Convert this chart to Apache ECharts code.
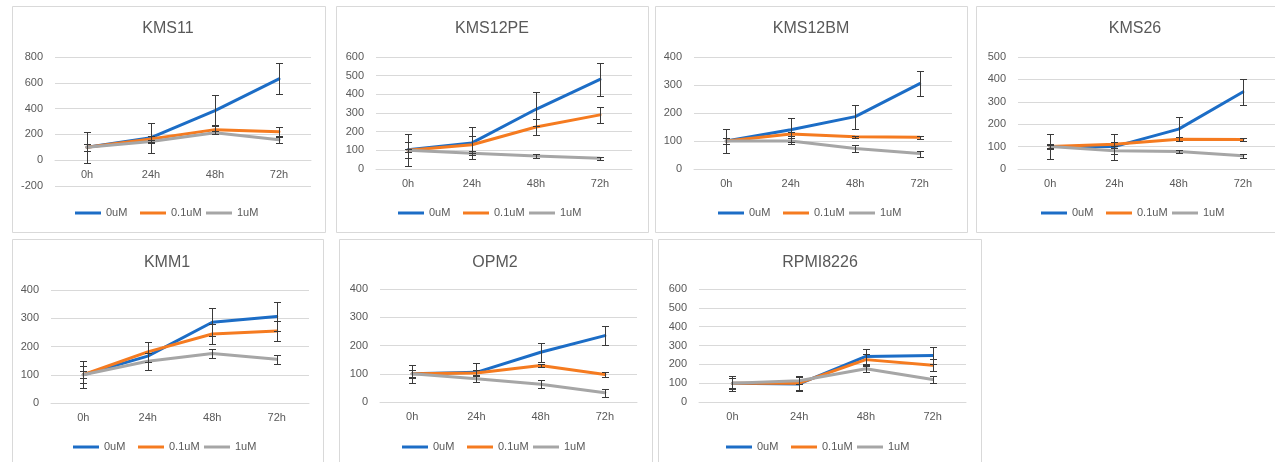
<!DOCTYPE html>
<html>
<head>
<meta charset="utf-8">
<title>Cell viability time course</title>
<script src="https://cdn.jsdelivr.net/npm/echarts@6/dist/echarts.min.js"></script>
<style>
  html, body { margin: 0; padding: 0; background: #ffffff; }
  #chart { width: 1275px; height: 462px; }
</style>
</head>
<body>
<div id="chart"></div>
<script>
// Time points and drug doses shared by every panel
const hours = ['0h', '24h', '48h', '72h'];
const doses = ['0uM', '0.1uM', '1uM'];
const cellLines = ['KMS11', 'KMS12PE', 'KMS12BM', 'KMS26', 'KMM1', 'OPM2', 'RPMI8226'];

// Mean relative growth (%) per dose, rows follow `doses`
const kms11Mean   = [[100, 175, 385, 630], [100, 165, 237, 220], [100, 145, 212, 158]];
const kms12peMean = [[103, 140, 320, 480], [100, 130, 225, 290], [100, 85, 70, 57]];
const kms12bmMean = [[100, 140, 187, 305], [100, 125, 115, 113], [100, 100, 73, 55]];
const kms26Mean   = [[100, 100, 178, 344], [100, 111, 133, 132], [100, 81, 78, 59]];
const kmm1Mean    = [[100, 166, 286, 306], [100, 181, 244, 255], [100, 148, 175, 155]];
const opm2Mean    = [[100, 105, 176, 235], [100, 103, 129, 97], [100, 82, 63, 33]];
const rpmiMean    = [[100, 96, 242, 247], [100, 100, 225, 195], [100, 113, 177, 119]];

// Standard deviations, same layout as the means
const kms11Err   = [[118, 117, 118, 120], [28, 22, 35, 36], [27, 15, 12, 22]];
const kms12peErr = [[85, 87, 90, 89], [42, 45, 43, 44], [8, 10, 10, 8]];
const kms12bmErr = [[44, 43, 43, 45], [10, 8, 3, 5], [10, 10, 11, 11]];
const kms26Err   = [[56, 58, 55, 57], [8, 8, 10, 7], [10, 12, 7, 8]];
const kmm1Err    = [[48, 50, 50, 50], [30, 35, 35, 36], [12, 30, 15, 16]];
const opm2Err    = [[32, 33, 33, 33], [12, 10, 5, 8], [15, 12, 14, 14]];
const rpmiErr    = [[40, 40, 38, 45], [30, 35, 30, 33], [25, 20, 16, 17]];

// Y axis [min, max, step] for each panel
const kms11Axis   = [-200, 800, 200];
const kms12peAxis = [0, 600, 100];
const kms12bmAxis = [0, 400, 100];
const kms26Axis   = [0, 500, 100];
const kmm1Axis    = [0, 400, 100];
const opm2Axis    = [0, 400, 100];
const rpmiAxis    = [0, 600, 100];

const means = [kms11Mean, kms12peMean, kms12bmMean, kms26Mean, kmm1Mean, opm2Mean, rpmiMean];
const errs  = [kms11Err, kms12peErr, kms12bmErr, kms26Err, kmm1Err, opm2Err, rpmiErr];
const axes  = [kms11Axis, kms12peAxis, kms12bmAxis, kms26Axis, kmm1Axis, opm2Axis, rpmiAxis];

// Panel geometry: frame box, plot area, title centre, legend anchor
const layout = [
  { box: [12, 6, 313, 226],  grid: [55, 57, 256, 129],  title: [168, 29],  legend: [75, 212] },
  { box: [336, 6, 312, 226], grid: [376, 57, 256, 112], title: [492, 29],  legend: [398, 212] },
  { box: [655, 6, 312, 226], grid: [694, 57, 258, 112], title: [811, 29],  legend: [718, 212] },
  { box: [976, 6, 330, 226], grid: [1018, 57, 259, 112], title: [1135, 29], legend: [1041, 212] },
  { box: [12, 239, 311, 260], grid: [51, 290, 258, 113], title: [167, 263], legend: [73, 446] },
  { box: [339, 239, 313, 260], grid: [380, 289, 257, 113], title: [495, 263], legend: [402, 446] },
  { box: [658, 239, 323, 260], grid: [699, 289, 267, 113], title: [820, 263], legend: [726, 446] }
];
// Horizontal offset of each legend entry from the legend anchor
const legendOffsets = [0, 65, 131];

const colors = ['#1C6DC6', '#F57B20', '#A6A6A6'];
const textColor = '#595959';
const gridColor = '#D9D9D9';
const fontFamily = "'Liberation Sans', Arial, sans-serif";

// Vertical error bar with short caps
function renderErrorBar(params, api) {
  const idx = api.value(0);
  const top = api.coord([idx, api.value(2)]);
  const bot = api.coord([idx, api.value(1)]);
  const x = Math.round(top[0]) + 0.5;
  const yt = Math.round(top[1]) + 0.5;
  const yb = Math.round(bot[1]) + 0.5;
  const hw = 3.5;
  const style = { stroke: '#3A3A3A', lineWidth: 1 };
  return {
    type: 'group',
    children: [
      { type: 'line', shape: { x1: x, y1: yt, x2: x, y2: yb }, style },
      { type: 'line', shape: { x1: x - hw, y1: yt, x2: x + hw, y2: yt }, style },
      { type: 'line', shape: { x1: x - hw, y1: yb, x2: x + hw, y2: yb }, style }
    ]
  };
}

const grid = [], xAxis = [], yAxis = [], series = [], legend = [], graphic = [];

cellLines.forEach(function (name, p) {
  const L = layout[p];
  const ax = axes[p];

  graphic.push({
    type: 'rect', silent: true, z: -10,
    shape: { x: L.box[0] + 0.5, y: L.box[1] + 0.5, width: L.box[2], height: L.box[3] },
    style: { fill: '#ffffff', stroke: gridColor, lineWidth: 1 }
  });
  graphic.push({
    type: 'text', silent: true,
    x: L.title[0], y: L.title[1],
    style: {
      text: name, fill: textColor, fontSize: 16, fontFamily: fontFamily,
      align: 'center', verticalAlign: 'middle'
    }
  });

  grid.push({ left: L.grid[0], top: L.grid[1], width: L.grid[2], height: L.grid[3], containLabel: false });

  // The category axis sits on the zero line; when the value range dips below
  // zero, lift the axis from the bottom edge up to zero.
  const zeroLift = ax[0] < 0 ? -L.grid[3] * (0 - ax[0]) / (ax[1] - ax[0]) : 0;
  xAxis.push({
    type: 'category', gridIndex: p, data: hours,
    position: 'bottom',
    offset: zeroLift,
    axisLine: { onZero: false, lineStyle: { color: gridColor, width: 1 } },
    axisTick: { show: false },
    axisLabel: { color: textColor, fontSize: 11, fontFamily: fontFamily, margin: 9 }
  });

  yAxis.push({
    type: 'value', gridIndex: p, min: ax[0], max: ax[1], interval: ax[2],
    axisLine: { show: false },
    axisTick: { show: false },
    splitLine: { lineStyle: { color: gridColor, width: 1 } },
    axisLabel: { color: textColor, fontSize: 11, fontFamily: fontFamily, margin: 12 }
  });

  doses.forEach(function (dose, d) {
    series.push({
      type: 'line', name: dose, xAxisIndex: p, yAxisIndex: p,
      data: means[p][d],
      symbol: 'none',
      color: colors[d],
      lineStyle: { color: colors[d], width: 3, cap: 'round', join: 'round' },
      z: 2
    });
  });

  doses.forEach(function (dose, d) {
    series.push({
      type: 'custom', xAxisIndex: p, yAxisIndex: p,
      renderItem: renderErrorBar,
      encode: { x: 0, y: [1, 2] },
      data: means[p][d].map(function (m, i) {
        return [i, m - errs[p][d][i], m + errs[p][d][i]];
      }),
      z: 5, silent: true
    });
  });

  doses.forEach(function (dose, d) {
    legend.push({
      data: [dose],
      left: L.legend[0] + legendOffsets[d], top: L.legend[1] - 4.5,
      padding: 0,
      icon: 'rect',
      itemWidth: 26, itemHeight: 3,
      selectedMode: false,
      textStyle: { color: textColor, fontSize: 11, fontFamily: fontFamily }
    });
  });
});

const chart = echarts.init(document.getElementById('chart'), null, { renderer: 'canvas' });
chart.setOption({
  backgroundColor: '#ffffff',
  animation: false,
  grid: grid,
  xAxis: xAxis,
  yAxis: yAxis,
  legend: legend,
  series: series,
  graphic: graphic
});
</script>
</body>
</html>
